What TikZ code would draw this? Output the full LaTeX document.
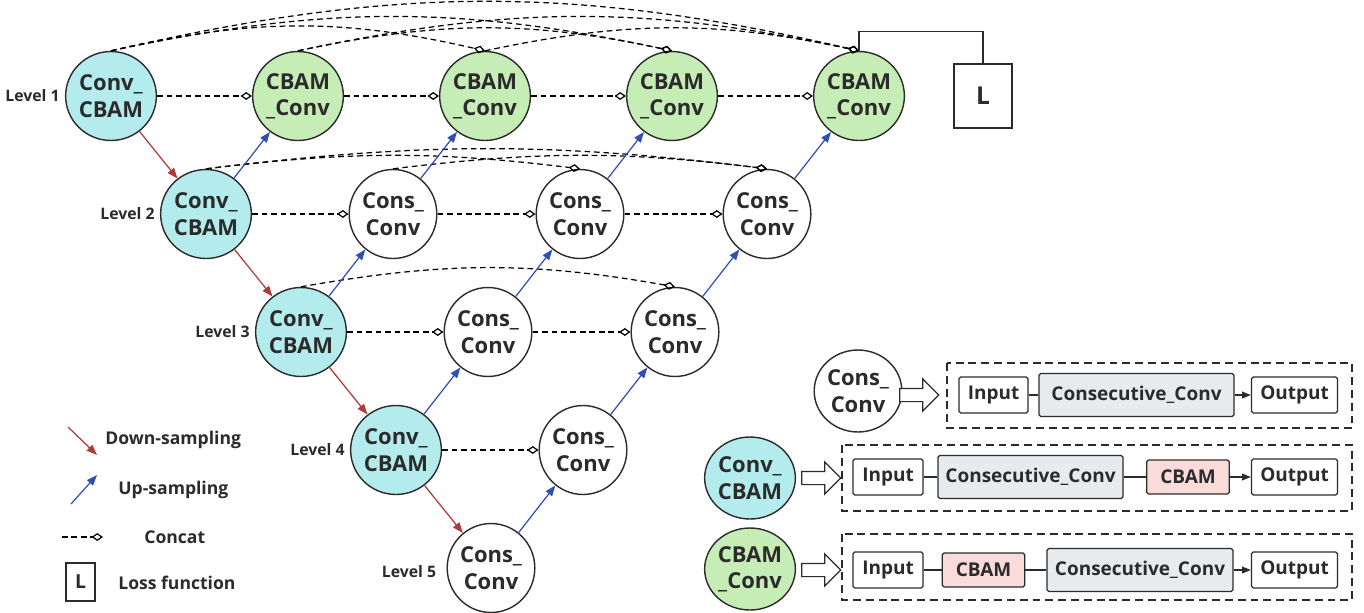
\documentclass[tikz,border=0pt]{standalone}
\usepackage{fontspec}
\setmainfont{Open Sans}
\usetikzlibrary{positioning,arrows.meta,shapes.geometric,shapes.arrows}

\definecolor{convcyan}{HTML}{B4EBEC}
\definecolor{cbamgreen}{HTML}{C6EDB6}
\definecolor{consgray}{HTML}{E7EBEE}
\definecolor{cbampink}{HTML}{F9DBDA}
\definecolor{downred}{HTML}{B0393A}
\definecolor{upblue}{HTML}{2F4FB5}
\definecolor{inkgray}{HTML}{2B2B2B}

\begin{document}
\begin{tikzpicture}[x=0.02cm, y=-0.02cm,
  every node/.style={font=\bfseries, text=inkgray},
  unit/.style={ellipse, draw=inkgray, line width=0.8pt, minimum width=1.72cm,
    minimum height=1.78cm, inner sep=0pt, align=center,
    font=\bfseries\fontsize{12.5}{15}\selectfont},
  convcbam/.style={unit, fill=convcyan},
  cbamconv/.style={unit, fill=cbamgreen},
  consconv/.style={unit, fill=white},
  keysize/.style={minimum width=1.62cm, minimum height=1.64cm},
  lvl/.style={anchor=east, inner xsep=0pt, font=\bfseries\fontsize{9}{11}\selectfont},
  concat/.style={line width=0.7pt, dash pattern=on 3.2pt off 2.2pt,
    -{Diamond[open,length=6.5pt,width=4.5pt]}},
  downsamp/.style={draw=downred, line width=0.7pt, -{Triangle[length=6pt,width=4.5pt]}},
  upsamp/.style={draw=upblue, line width=0.7pt, -{Triangle[length=6pt,width=4.5pt]}},
  lossbox/.style={draw=inkgray, line width=0.8pt, minimum width=1.16cm,
    minimum height=1.28cm, font=\bfseries\fontsize{14}{16}\selectfont},
  frame/.style={draw=inkgray, line width=0.7pt, dash pattern=on 4.5pt off 2.8pt},
  blk/.style={draw=inkgray, line width=0.7pt, rounded corners=1pt, inner sep=0pt,
    minimum height=0.72cm, font=\bfseries\fontsize{10.8}{13}\selectfont},
  ccblk/.style={blk, fill=consgray, minimum height=0.86cm},
  cbblk/.style={blk, fill=cbampink, minimum height=0.68cm, minimum width=1.65cm},
  link/.style={draw=inkgray, line width=0.7pt},
  linkto/.style={link, -{Triangle[length=5pt,width=3.8pt]}},
  hollow/.style={single arrow, draw=inkgray, fill=white, line width=0.7pt,
    minimum height=0.78cm, inner xsep=0pt, inner ysep=0.12cm,
    single arrow head extend=0.19cm},
  legtxt/.style={anchor=west, inner xsep=0pt, font=\bfseries\fontsize{10}{12}\selectfont}
]
  \useasboundingbox (0,0) rectangle (1364,612);

  %----- nodes, level by level -----
  % Level 1
  \node[convcbam] (a11) at (111,96) {Conv\_\\CBAM};
  \node[cbamconv] (a12) at (298,96) {CBAM\\\_Conv};
  \node[cbamconv] (a13) at (485,96) {CBAM\\\_Conv};
  \node[cbamconv] (a14) at (672,96) {CBAM\\\_Conv};
  \node[cbamconv] (a15) at (859,96) {CBAM\\\_Conv};
  % Level 2
  \node[convcbam] (a21) at (206,214) {Conv\_\\CBAM};
  \node[consconv] (a22) at (393,214) {Cons\_\\Conv};
  \node[consconv] (a23) at (580,214) {Cons\_\\Conv};
  \node[consconv] (a24) at (767,214) {Cons\_\\Conv};
  % Level 3
  \node[convcbam] (a31) at (301,332) {Conv\_\\CBAM};
  \node[consconv] (a32) at (488,332) {Cons\_\\Conv};
  \node[consconv] (a33) at (675,332) {Cons\_\\Conv};
  % Level 4
  \node[convcbam] (a41) at (396,450) {Conv\_\\CBAM};
  \node[consconv] (a42) at (583,450) {Cons\_\\Conv};
  % Level 5
  \node[consconv] (a51) at (491,568) {Cons\_\\Conv};

  %----- level labels -----
  \node[lvl] (lv1) at ([xshift=-0.1cm]a11.west) {Level 1};
  \node[lvl] (lv2) at ([xshift=-0.1cm]a21.west) {Level 2};
  \node[lvl] (lv3) at ([xshift=-0.1cm]a31.west) {Level 3};
  \node[lvl] (lv4) at ([xshift=-0.1cm]a41.west) {Level 4};
  \node[lvl] (lv5) at ([xshift=-0.2cm,yshift=-0.08cm]a51.west) {Level 5};

  %----- skip connections (concat) -----
  \foreach \a/\b in {a11/a12,a12/a13,a13/a14,a14/a15,a21/a22,a22/a23,a23/a24,
                     a31/a32,a32/a33,a41/a42}
    \draw[concat] (\a) -- (\b);
  \foreach \a/\b/\t in {a11/a13/13,a11/a14/12,a11/a15/13,a12/a14/12,a12/a15/12,a13/a15/12}
    \draw[concat] (\a.north) to[bend left=\t] (\b.north);
  \foreach \a/\b in {a21/a23,a21/a24,a22/a24}
    \draw[concat] (\a.north) to[bend left=7] (\b.north);
  \draw[concat] (a31.north) to[bend left=10] (a33.north);

  %----- down / up sampling -----
  \foreach \a/\b in {a11/a21,a21/a31,a31/a41,a41/a51}
    \draw[downsamp] (\a) -- (\b);
  \foreach \a/\b in {a21/a12,a22/a13,a23/a14,a24/a15,a31/a22,a32/a23,a33/a24,
                     a41/a32,a42/a33,a51/a42}
    \draw[upsamp] (\a) -- (\b);

  %----- loss -----
  \node[lossbox] (loss) at (983,96) {L};
  \draw[link] (a15.north) -- ++(0,-19) -| (loss.north);

  %----- legend -----
  \coordinate (dsA) at (68,427);  \coordinate (dsB) at (97,455);
  \draw[downsamp] (dsA) -- (dsB);
  \node[legtxt] (dstxt) at (105,440) {Down-sampling};
  \coordinate (usA) at (71,504);  \coordinate (usB) at (97,475);
  \draw[upsamp] (usA) -- (usB);
  \node[legtxt] (ustxt) at (118,490) {Up-sampling};
  \coordinate (ccA) at (62,537);  \coordinate (ccB) at (103,537);
  \draw[concat] (ccA) -- (ccB);
  \node[legtxt] (cctxt) at (144,537) {Concat};
  \node[lossbox, minimum width=0.58cm, minimum height=0.76cm,
        font=\bfseries\fontsize{11}{13}\selectfont] (lleg) at (80.5,582) {L};
  \node[legtxt] (lltxt) at (118,583) {Loss function};

  %----- block details (right side) -----
  % Cons_Conv
  \node[consconv, keysize] (ka) at (858,391) {Cons\_\\Conv};
  \node[hollow] (ha) at (916,395) {};
  \draw[frame] (947,363) rectangle (1352,428);
  \node[blk, minimum width=1.38cm] (inA) at (993.5,395) {Input};
  \node[ccblk, minimum width=3.9cm] (cvA) at (1136.5,395) {Consecutive\_Conv};
  \node[blk, minimum width=1.72cm] (outA) at (1294.5,395) {Output};
  \draw[link] (inA) -- (cvA);
  \draw[linkto] (cvA) -- (outA);
  % Conv_CBAM
  \node[convcbam, keysize] (kb) at (750,478) {Conv\_\\CBAM};
  \node[hollow] (hb) at (818,478) {};
  \draw[frame] (842,445) rectangle (1352,511);
  \node[blk, minimum width=1.4cm] (inB) at (888,477) {Input};
  \node[ccblk, minimum width=3.7cm] (cvB) at (1030.5,477) {Consecutive\_Conv};
  \node[cbblk] (cbB) at (1188,477) {CBAM};
  \node[blk, minimum width=1.72cm] (outB) at (1294.5,477) {Output};
  \draw[link] (inB) -- (cvB);
  \draw[link] (cvB) -- (cbB);
  \draw[linkto] (cbB) -- (outB);
  % CBAM_Conv
  \node[cbamconv, keysize] (kc) at (750,569) {CBAM\\\_Conv};
  \node[hollow] (hc) at (818,570) {};
  \draw[frame] (842,534) rectangle (1352,600);
  \node[blk, minimum width=1.4cm] (inC) at (888,570) {Input};
  \node[cbblk] (cbC) at (983.5,570) {CBAM};
  \node[ccblk, minimum width=3.72cm] (cvC) at (1140,570) {Consecutive\_Conv};
  \node[blk, minimum width=1.72cm] (outC) at (1294.5,570) {Output};
  \draw[link] (inC) -- (cbC);
  \draw[link] (cbC) -- (cvC);
  \draw[linkto] (cvC) -- (outC);
\end{tikzpicture}
\end{document}
